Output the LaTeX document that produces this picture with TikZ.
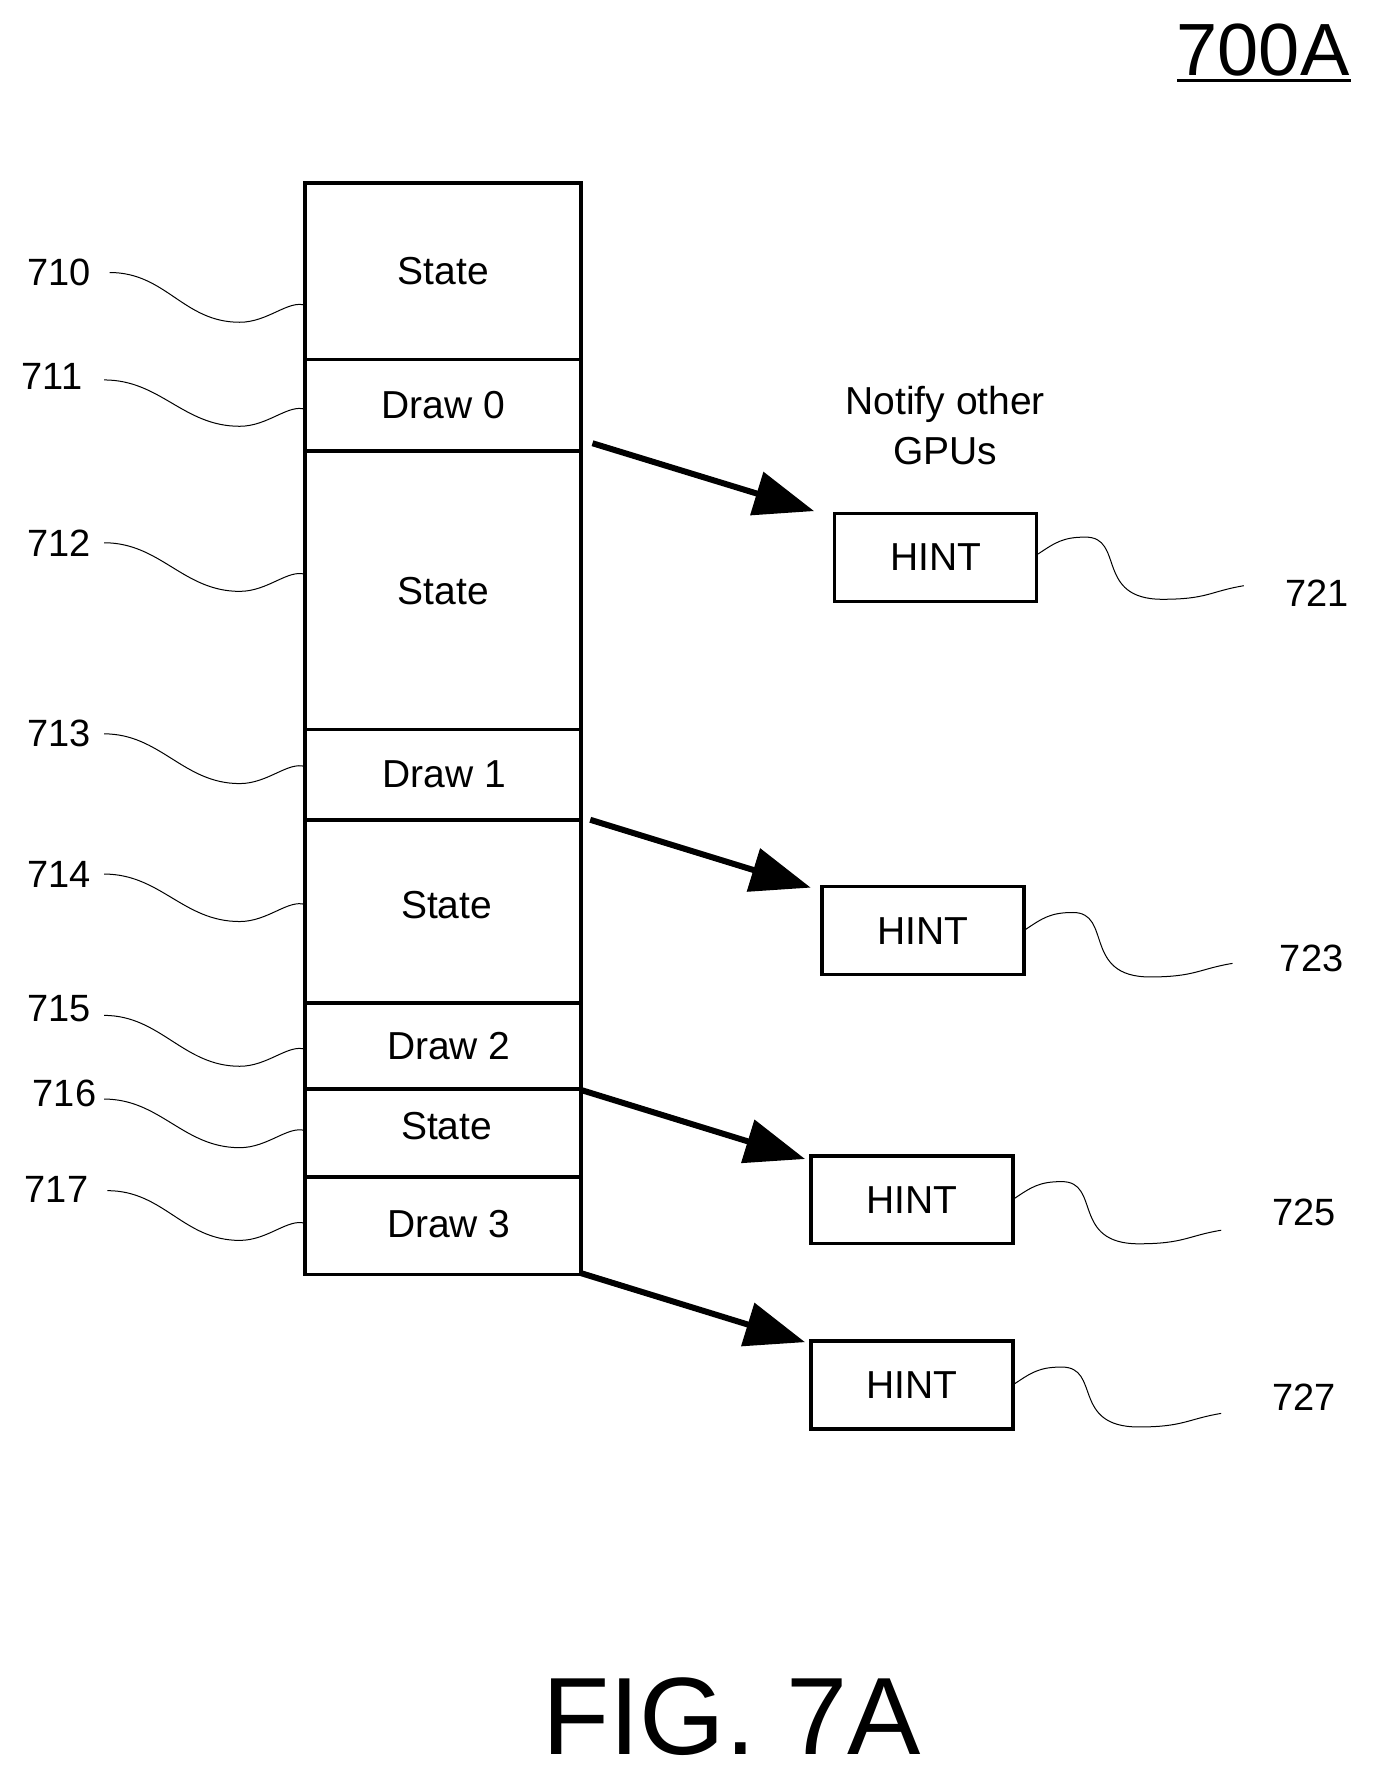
\documentclass[tikz,border=0pt]{standalone}
\usepackage{fontspec}
\setmainfont{Liberation Sans}
\usetikzlibrary{arrows.meta}
\begin{document}
\begin{tikzpicture}[x=0.5655pt,y=-0.5655pt,
  box/.style={draw,line width=1.8pt},
  txt/.style={font=\fontsize{19.5}{24}\selectfont},
  lbl/.style={font=\fontsize{19}{23}\selectfont},
  sq/.style={line width=0.5pt},
  arr/.style={line width=3pt,-{Triangle[length=30pt,width=22pt]}}]
\useasboundingbox (0,0) rectangle (1218,1576);
% column
\foreach \n/\a/\b in {c0/162/318,c1/318/399,c2/399/645,c3/645/725,c4/725/887,c5/887/963,c6/963/1041,c7/1041/1127}{
  \draw[box] (270,\a) rectangle (514,\b);}
\node[txt] (s0) at (392,240) {State};
\node[txt] (d0) at (392,358) {Draw 0};
\node[txt] (s1) at (392,523) {State};
\node[txt] (d1) at (393,685) {Draw 1};
\node[txt] (s2) at (395,800) {State};
\node[txt] (d2) at (397,925) {Draw 2};
\node[txt] (s3) at (395,996) {State};
\node[txt] (d3) at (397,1083) {Draw 3};
% hints
\node[box,txt,minimum width=101pt,minimum height=44pt] (h1) at (827.5,493) {HINT};
\node[box,txt,minimum width=101pt,minimum height=44pt] (h2) at (816.5,823) {HINT};
\node[box,txt,minimum width=101pt,minimum height=44pt] (h3) at (806.5,1061) {HINT};
\node[box,txt,minimum width=101pt,minimum height=44pt] (h4) at (806.5,1225) {HINT};
\node[txt,align=center,font=\fontsize{19.5}{25}\selectfont] (nt) at (836,376) {Notify other\\GPUs};
% arrows
\coordinate (a1) at (524,392); \coordinate (b1) at (720,452);
\coordinate (a2) at (522,725); \coordinate (b2) at (717,785);
\coordinate (a3) at (514,964); \coordinate (b3) at (712,1025);
\coordinate (a4) at (514,1126); \coordinate (b4) at (712,1187);
\draw[arr] (a1) -- (b1);
\draw[arr] (a2) -- (b2);
\draw[arr] (a3) -- (b3);
\draw[arr] (a4) -- (b4);
% left labels
\foreach \nm/\t/\lx/\ly/\sx/\sy/\ey in {l0/710/52/241/97/241/270,l1/711/46/333/92/336/362,l2/712/52/480/92/480/508,l3/713/52/649/92/649/678,l4/714/52/773/92/773/800,l5/715/52/892/92/898/928,l6/716/57/967/92/972/1000,l7/717/50/1052/95/1053/1082}{
  \node[lbl] (\nm) at (\lx,\ly) {\t};
  \draw[sq] (\sx,\sy) .. controls +(50,0) and +(-50,0) .. (212,\ey+15) .. controls +(25,0) and +(-15,-5) .. (270,\ey);}
% right labels
\foreach \nm/\t/\lx/\ly/\bx/\by/\ex/\ey in {r1/721/1165/525/918/490/1100/518,r2/723/1160/848/907/822/1090/852,r3/725/1153/1072/897/1060/1080/1088,r4/727/1153/1236/897/1224/1080/1250}{
  \node[lbl] (\nm) at (\lx,\ly) {\t};
  \draw[sq] (\bx,\by) .. controls +(15,-10) and +(-20,0) .. (\bx+42,\by-15) .. controls +(35,0) and +(-60,0) .. (\bx+110,\ey+12) .. controls +(40,0) and +(-30,5) .. (\ex,\ey);}
% titles
\node[font=\fontsize{37}{42}\selectfont] (t) at (1117,44) {700A};
\draw[line width=1.5pt] (1041,71) -- (1195,71);
\node[font=\fontsize{55}{62}\selectfont] (f) at (647,1518) {FIG. 7A};
\end{tikzpicture}
\end{document}
